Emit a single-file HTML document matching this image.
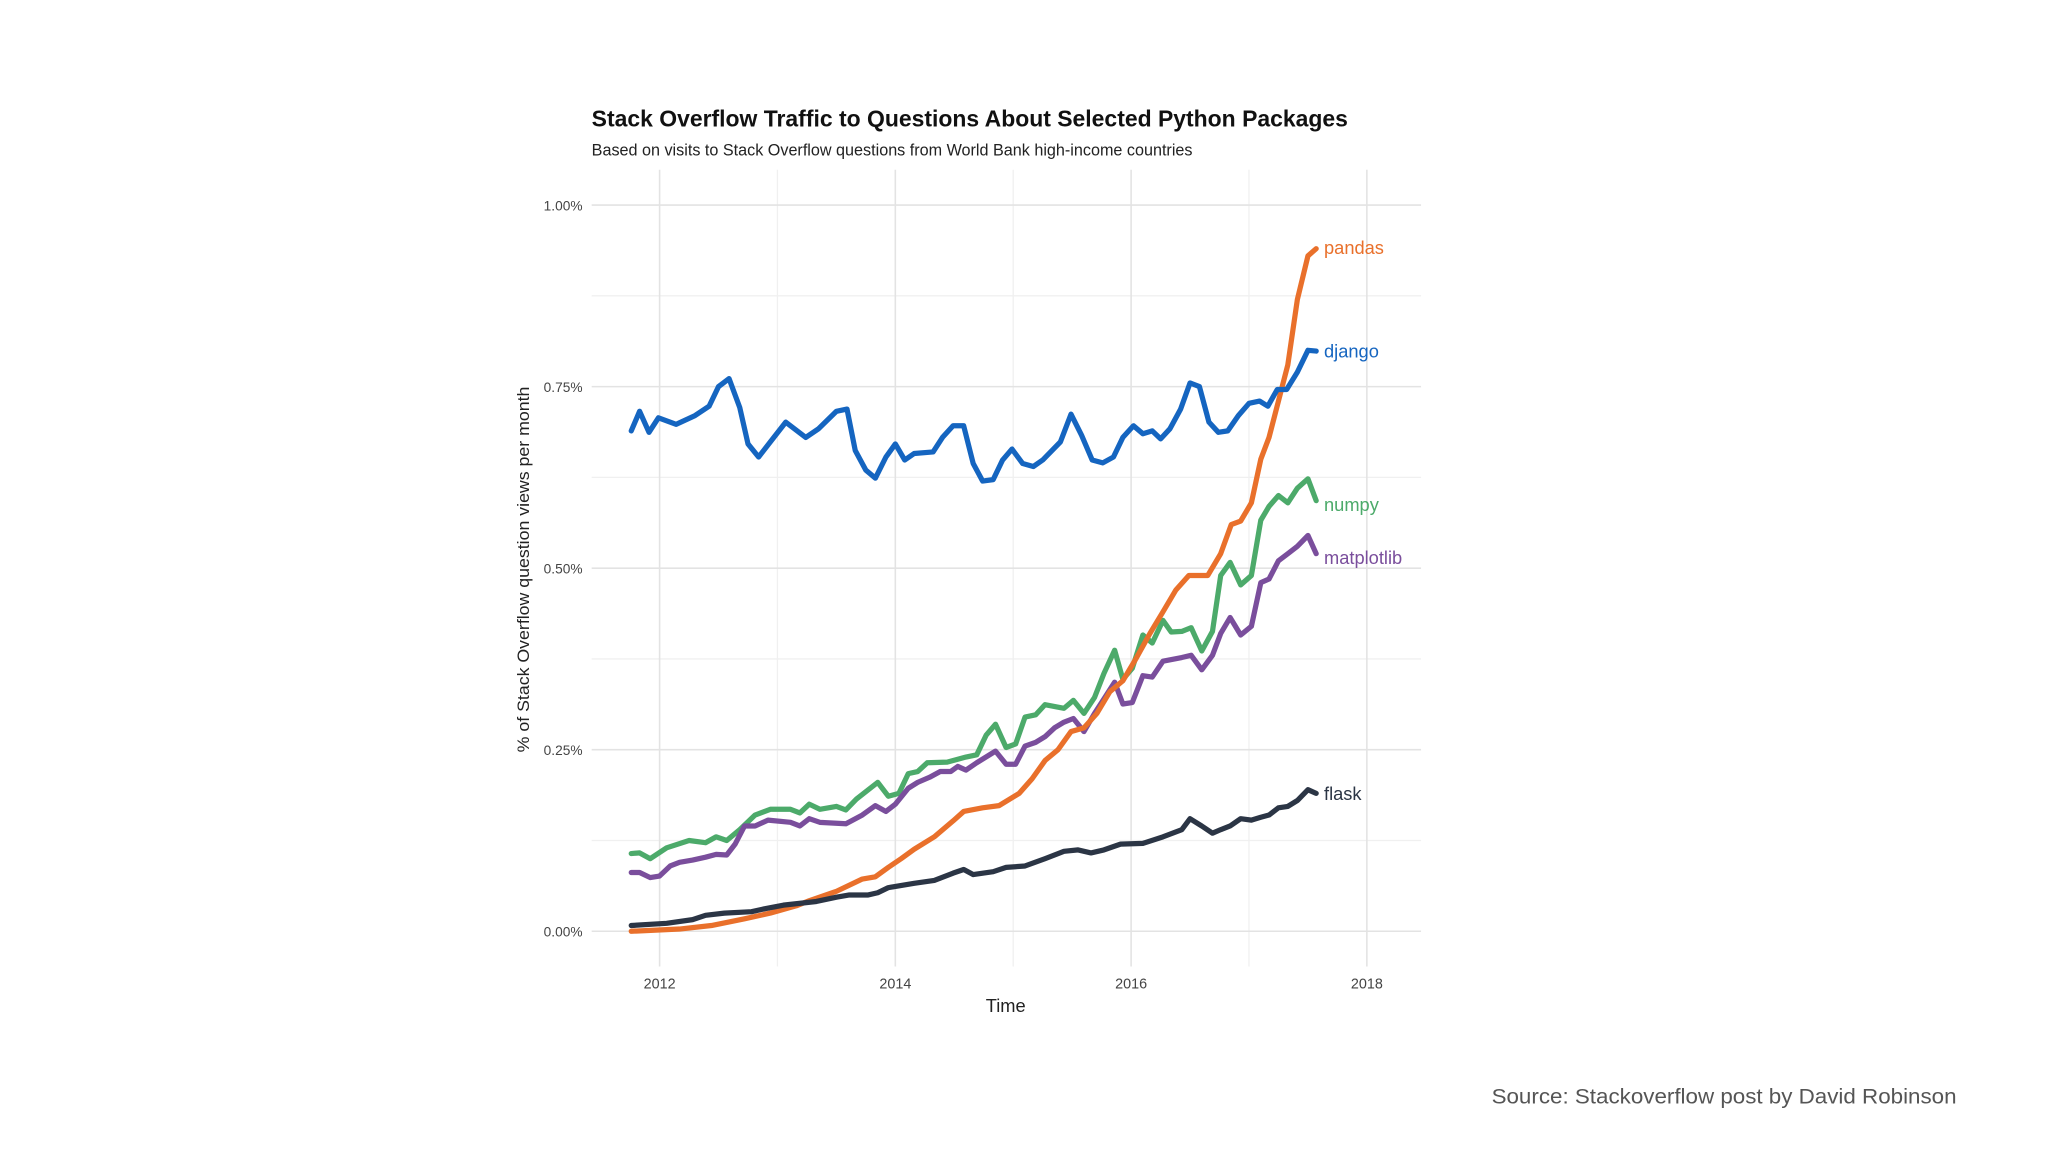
<!DOCTYPE html>
<html><head><meta charset="utf-8">
<style>
html,body{margin:0;padding:0;background:#fff;}
svg{display:block;}
text{font-family:"Liberation Sans Narrow","Liberation Sans",sans-serif;}
</style></head>
<body>
<svg id="chart" width="2048" height="1152" viewBox="0 0 1568 882" preserveAspectRatio="none" xmlns="http://www.w3.org/2000/svg">
<rect width="1568" height="882" fill="#fff"/>
<g id="grid"></g>
<g id="series"></g>
<g id="labels"></g>
<text x="453" y="97" font-size="18" font-weight="bold" fill="#111" textLength="579" lengthAdjust="spacingAndGlyphs" style="font-family:'Liberation Sans',sans-serif">Stack Overflow Traffic to Questions About Selected Python Packages</text>
<text x="453" y="119" font-size="12.5" fill="#222" textLength="460" lengthAdjust="spacingAndGlyphs">Based on visits to Stack Overflow questions from World Bank high-income countries</text>
<text transform="translate(405,436) rotate(-90)" text-anchor="middle" font-size="13" fill="#222" textLength="280" lengthAdjust="spacingAndGlyphs">% of Stack Overflow question views per month</text>
<text x="770" y="775" text-anchor="middle" font-size="14" fill="#222">Time</text>
<text x="1142" y="845" font-size="16" fill="#555" textLength="356" lengthAdjust="spacingAndGlyphs" style="font-family:'Liberation Sans',sans-serif">Source: Stackoverflow post by David Robinson</text>
</svg>
<script>
const yTicks=[0,0.25,0.5,0.75,1.0];
const yTickLabels=["0.00%","0.25%","0.50%","0.75%","1.00%"];
const xTicks=[2012,2014,2016,2018];
const xTickLabels=["2012","2014","2016","2018"];
const seriesNames=["pandas","django","numpy","matplotlib","flask"];
const djangoT=[2011.76,2011.83,2011.91,2011.99,2012.14,2012.30,2012.42,2012.50,2012.59,2012.68,2012.75,2012.84,2012.94,2013.07,2013.24,2013.35,2013.50,2013.59,2013.66,2013.75,2013.83,2013.92,2014.00,2014.08,2014.16,2014.32,2014.40,2014.49,2014.58,2014.66,2014.74,2014.83,2014.91,2014.99,2015.08,2015.17,2015.25,2015.40,2015.49,2015.58,2015.67,2015.76,2015.85,2015.93,2016.02,2016.10,2016.18,2016.25,2016.33,2016.42,2016.50,2016.58,2016.66,2016.74,2016.82,2016.91,2017.00,2017.09,2017.16,2017.24,2017.32,2017.41,2017.50,2017.57];
const djangoV=[.689,.716,.687,.707,.698,.710,.723,.750,.761,.721,.671,.653,.674,.701,.680,.692,.716,.719,.662,.635,.624,.653,.671,.649,.658,.660,.680,.696,.696,.644,.620,.622,.649,.664,.644,.640,.649,.674,.712,.683,.649,.645,.653,.680,.696,.685,.689,.678,.692,.719,.755,.750,.701,.687,.689,.710,.727,.730,.723,.746,.746,.770,.800,.799];
const pandasT=[2011.76,2012.17,2012.44,2012.72,2012.94,2013.16,2013.27,2013.50,2013.72,2013.83,2013.94,2014.05,2014.16,2014.33,2014.49,2014.58,2014.74,2014.88,2015.05,2015.16,2015.27,2015.38,2015.49,2015.60,2015.71,2015.82,2015.93,2016.04,2016.16,2016.27,2016.38,2016.49,2016.65,2016.76,2016.85,2016.93,2017.02,2017.10,2017.17,2017.25,2017.33,2017.41,2017.50,2017.57];
const pandasV=[0,.003,.008,.017,.025,.035,.042,.055,.072,.075,.088,.100,.113,.130,.152,.165,.170,.173,.190,.210,.235,.250,.275,.280,.300,.330,.345,.375,.410,.440,.470,.490,.490,.520,.560,.565,.590,.650,.680,.730,.780,.870,.930,.940];
const numpyT=[2011.76,2011.83,2011.92,2012.06,2012.25,2012.39,2012.48,2012.57,2012.68,2012.81,2012.94,2013.11,2013.19,2013.27,2013.36,2013.50,2013.58,2013.67,2013.85,2013.94,2014.03,2014.11,2014.19,2014.27,2014.44,2014.60,2014.69,2014.77,2014.85,2014.94,2015.02,2015.10,2015.19,2015.27,2015.43,2015.51,2015.60,2015.69,2015.77,2015.86,2015.93,2016.01,2016.10,2016.18,2016.27,2016.34,2016.43,2016.51,2016.60,2016.69,2016.76,2016.84,2016.93,2017.02,2017.10,2017.17,2017.25,2017.33,2017.41,2017.50,2017.57];
const numpyV=[.107,.108,.100,.115,.125,.122,.130,.125,.140,.160,.168,.168,.163,.175,.168,.172,.167,.182,.205,.186,.190,.217,.220,.232,.233,.240,.243,.270,.285,.253,.258,.295,.298,.312,.307,.318,.300,.322,.355,.387,.347,.362,.408,.397,.428,.412,.413,.418,.386,.413,.490,.508,.477,.490,.566,.585,.600,.590,.610,.623,.593];
const mplT=[2011.76,2011.83,2011.92,2012.00,2012.09,2012.17,2012.28,2012.39,2012.48,2012.57,2012.64,2012.72,2012.81,2012.92,2013.11,2013.19,2013.27,2013.36,2013.58,2013.72,2013.83,2013.92,2014.00,2014.11,2014.19,2014.29,2014.38,2014.47,2014.53,2014.60,2014.69,2014.85,2014.94,2015.02,2015.10,2015.19,2015.27,2015.35,2015.43,2015.51,2015.60,2015.69,2015.77,2015.86,2015.93,2016.01,2016.10,2016.18,2016.27,2016.43,2016.51,2016.60,2016.69,2016.76,2016.84,2016.93,2017.02,2017.10,2017.17,2017.25,2017.33,2017.41,2017.50,2017.57];
const mplV=[.081,.081,.074,.076,.090,.095,.098,.102,.106,.105,.120,.145,.145,.153,.150,.145,.155,.150,.148,.160,.173,.165,.175,.197,.205,.212,.220,.220,.227,.222,.232,.248,.230,.230,.255,.260,.268,.280,.288,.293,.275,.300,.320,.343,.313,.315,.352,.350,.372,.377,.380,.360,.380,.410,.432,.408,.420,.480,.485,.510,.520,.530,.545,.520];
const flaskT=[2011.76,2012.06,2012.28,2012.39,2012.55,2012.78,2012.89,2013.05,2013.33,2013.50,2013.61,2013.77,2013.85,2013.94,2014.16,2014.33,2014.49,2014.58,2014.66,2014.83,2014.94,2015.10,2015.27,2015.43,2015.55,2015.66,2015.77,2015.91,2016.10,2016.27,2016.43,2016.50,2016.60,2016.69,2016.76,2016.84,2016.93,2017.02,2017.10,2017.17,2017.25,2017.33,2017.41,2017.50,2017.57];
const flaskV=[.008,.011,.016,.022,.025,.027,.031,.036,.041,.047,.050,.050,.053,.060,.066,.070,.080,.085,.078,.082,.088,.090,.100,.110,.112,.108,.112,.120,.121,.130,.140,.155,.145,.135,.140,.145,.155,.153,.157,.160,.170,.172,.180,.195,.190];

const NS="http://www.w3.org/2000/svg";
const X0=453,X1=1088,Y0=130,Y1=740;
function xs(t){return 505+(t-2012)*90.25;}
function ys(v){return 713-v*556;}
function mk(tag,attrs,parent){const e=document.createElementNS(NS,tag);for(const k in attrs)e.setAttribute(k,attrs[k]);parent.appendChild(e);return e;}
const grid=document.getElementById('grid');
for(let i=0;i<yTicks.length-1;i++){
  const l=mk('line',{x1:X0,x2:X1,y1:ys((yTicks[i]+yTicks[i+1])/2),y2:ys((yTicks[i]+yTicks[i+1])/2),stroke:'#f0f0f0','stroke-width':1},grid);
  
  
}
for(let i=0;i<xTicks.length-1;i++){
  const xm=xs((xTicks[i]+xTicks[i+1])/2);
  const l=mk('line',{x1:xm,x2:xm,y1:Y0,y2:Y1,stroke:'#f0f0f0','stroke-width':1},grid);
  
  
}
yTicks.forEach((v,i)=>{
  const l=mk('line',{x1:X0,x2:X1,y1:ys(v),y2:ys(v),stroke:'#e3e3e3','stroke-width':1.2},grid);
  
  
  const t=mk('text',{x:446,y:ys(v)+4,'text-anchor':'end','font-size':10.5,fill:'#444'},grid);
  t.textContent=yTickLabels[i];
  
  
});
xTicks.forEach((v,i)=>{
  const l=mk('line',{x1:xs(v),x2:xs(v),y1:Y0,y2:Y1,stroke:'#e3e3e3','stroke-width':1.2},grid);
  
  
  const t=mk('text',{x:xs(v),y:757,'text-anchor':'middle','font-size':11,fill:'#444'},grid);
  t.textContent=xTickLabels[i];
  
  
});
const colors={pandas:'#e9702b',django:'#1565c0',numpy:'#4caa6a',matplotlib:'#7a4e9c',flask:'#2b3545'};
const data={pandas:[pandasT,pandasV],django:[djangoT,djangoV],numpy:[numpyT,numpyV],matplotlib:[mplT,mplV],flask:[flaskT,flaskV]};
const labelOffset={pandas:-1,django:0,numpy:3,matplotlib:3,flask:0};
const sg=document.getElementById('series'),lg=document.getElementById('labels');
['numpy','matplotlib','pandas','flask','django'].forEach(n=>{
  const [T,V]=data[n];
  const d=T.map((t,i)=>(i?'L':'M')+xs(t).toFixed(1)+','+ys(V[i]).toFixed(1)).join('');
  const p=mk('path',{d:d,fill:'none',stroke:colors[n],'stroke-width':4,'stroke-linejoin':'round','stroke-linecap':'round'},sg);
  
  
  const last=V.length-1;
  const t=mk('text',{x:xs(T[last])+6,y:ys(V[last])+5+labelOffset[n],'font-size':14,fill:colors[n]},lg);
  t.textContent=n;
  
  
});
</script>
</body></html>
